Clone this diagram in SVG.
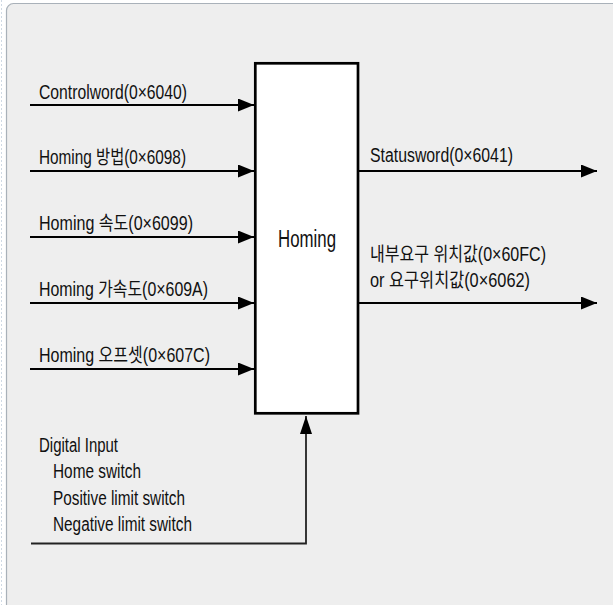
<svg xmlns="http://www.w3.org/2000/svg" width="613" height="605" viewBox="0 0 613 605">
  <style>
    .lbl { font-family: "Liberation Sans", "Noto Sans CJK KR", Arial, sans-serif; font-size: 19.5px; fill: #111; }
    .sig { stroke: #000; stroke-width: 2; fill: none; }
    .dig { stroke: #222; stroke-width: 1.8; fill: none; }
  </style>
  <defs>
    <marker id="ah" markerUnits="userSpaceOnUse" markerWidth="16" markerHeight="13" refX="16" refY="6.5" orient="auto">
      <path d="M0,0 L16,6.5 L0,13 Z" fill="#000"/>
    </marker>
    <marker id="ahv" markerUnits="userSpaceOnUse" markerWidth="18" markerHeight="12" refX="18" refY="6" orient="auto">
      <path d="M0,0 L18,6 L0,12 Z" fill="#000"/>
    </marker>
  </defs>
  <rect x="0" y="0" width="613" height="605" fill="#ffffff"/>
  <line x1="1.5" y1="0" x2="1.5" y2="605" stroke="#cfd9e4" stroke-width="1" stroke-dasharray="2 2"/>
  <rect x="6.5" y="3.5" width="640" height="640" rx="7" fill="#eeeeee" stroke="#a9b1b9" stroke-width="1.2"/>

  <g id="connectors">
    <line class="sig" x1="30" y1="105" x2="254" y2="105" marker-end="url(#ah)"/>
    <line class="sig" x1="30" y1="171" x2="254" y2="171" marker-end="url(#ah)"/>
    <line class="sig" x1="30" y1="237" x2="254" y2="237" marker-end="url(#ah)"/>
    <line class="sig" x1="30" y1="303" x2="254" y2="303" marker-end="url(#ah)"/>
    <line class="sig" x1="30" y1="369" x2="254" y2="369" marker-end="url(#ah)"/>
    <line class="sig" x1="358" y1="171" x2="597" y2="171" marker-end="url(#ah)"/>
    <line class="sig" x1="358" y1="303" x2="597" y2="303" marker-end="url(#ah)"/>
    <polyline class="dig" points="31,543.5 306,543.5 306,416" marker-end="url(#ahv)"/>
  </g>

  <g id="homing">
    <rect x="255.3" y="63.3" width="102.7" height="350" fill="#ffffff" stroke="#000" stroke-width="2.7"/>
    <text class="lbl" x="278" y="247" style="font-size:23px" textLength="58" lengthAdjust="spacingAndGlyphs">Homing</text>
  </g>

  <g id="inputs">
    <text class="lbl" x="39" y="99" textLength="148" lengthAdjust="spacingAndGlyphs">Controlword(0×6040)</text>
    <text class="lbl" x="39" y="164" textLength="147" lengthAdjust="spacingAndGlyphs">Homing 방법(0×6098)</text>
    <text class="lbl" x="39" y="230" textLength="154" lengthAdjust="spacingAndGlyphs">Homing 속도(0×6099)</text>
    <text class="lbl" x="39" y="296" textLength="169" lengthAdjust="spacingAndGlyphs">Homing 가속도(0×609A)</text>
    <text class="lbl" x="39" y="362" textLength="171" lengthAdjust="spacingAndGlyphs">Homing 오프셋(0×607C)</text>
  </g>

  <g id="outputs">
    <text class="lbl" x="370" y="162" textLength="143" lengthAdjust="spacingAndGlyphs">Statusword(0×6041)</text>
    <text class="lbl" x="370" y="261" textLength="176" lengthAdjust="spacingAndGlyphs">내부요구 위치값(0×60FC)</text>
    <text class="lbl" x="370" y="287" textLength="160" lengthAdjust="spacingAndGlyphs">or 요구위치값(0×6062)</text>
  </g>

  <g id="digital-input">
    <text class="lbl" x="39" y="452" textLength="79" lengthAdjust="spacingAndGlyphs">Digital Input</text>
    <text class="lbl" x="53" y="478" textLength="88" lengthAdjust="spacingAndGlyphs">Home switch</text>
    <text class="lbl" x="53" y="505" textLength="132" lengthAdjust="spacingAndGlyphs">Positive limit switch</text>
    <text class="lbl" x="53" y="531" textLength="139" lengthAdjust="spacingAndGlyphs">Negative limit switch</text>
  </g>
</svg>
